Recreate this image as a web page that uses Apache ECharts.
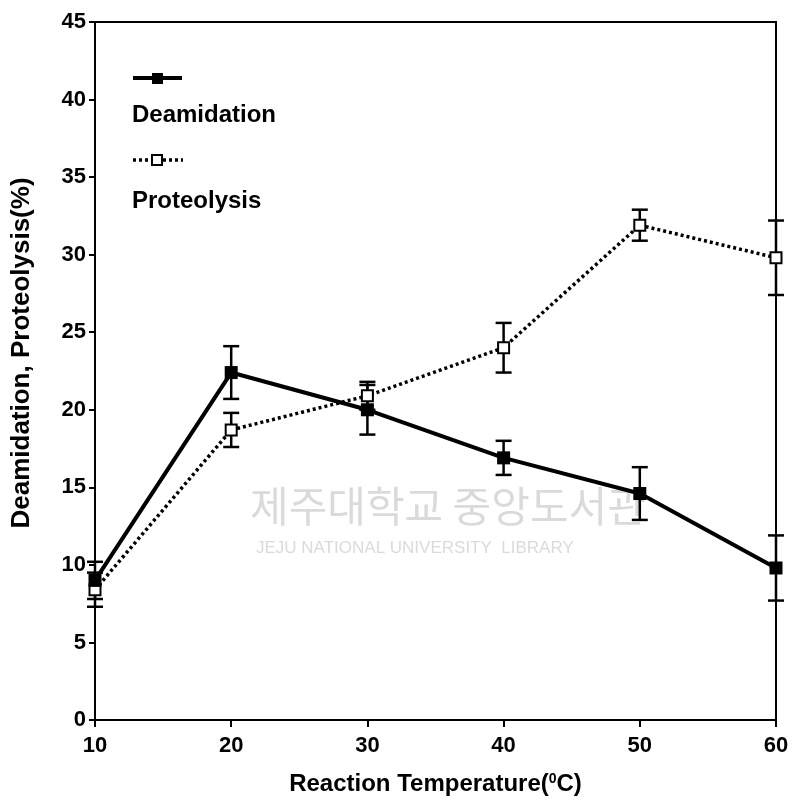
<!DOCTYPE html>
<html>
<head>
<meta charset="utf-8">
<script src="https://cdn.jsdelivr.net/npm/echarts@6/dist/echarts.min.js"></script>
<style>
  html, body { margin: 0; padding: 0; background: #fff; }
  #chart { width: 792px; height: 807px; }
</style>
</head>
<body>
<div id="chart"></div>
<script>
const temps = [10, 20, 30, 40, 50, 60];
const deamidation = [9.0, 22.4, 20.0, 16.9, 14.6, 9.8];
const deamidationErr = [1.2, 1.7, 1.6, 1.1, 1.7, 2.1];
const proteolysis = [8.4, 18.7, 20.9, 24.0, 31.9, 29.8];
const proteolysisErr = [1.1, 1.1, 0.9, 1.6, 1.0, 2.4];

const font = "Liberation Sans";
const chart = echarts.init(document.getElementById("chart"));

function pairs(values) {
  return temps.map((t, i) => [t, values[i]]);
}

function errorSeries(values, errs) {
  return {
    type: "custom",
    z: 1,
    data: temps.map((t, i) => [t, values[i], errs[i]]),
    renderItem: (params, api) => {
      const x = api.value(0);
      const y = api.value(1);
      const e = api.value(2);
      const top = api.coord([x, y + e]);
      const bottom = api.coord([x, y - e]);
      const style = { stroke: "#000", lineWidth: 2.5 };
      const cap = 8;
      return {
        type: "group",
        children: [
          { type: "line", shape: { x1: top[0], y1: top[1], x2: bottom[0], y2: bottom[1] }, style },
          { type: "line", shape: { x1: top[0] - cap, y1: top[1], x2: top[0] + cap, y2: top[1] }, style },
          { type: "line", shape: { x1: bottom[0] - cap, y1: bottom[1], x2: bottom[0] + cap, y2: bottom[1] }, style },
        ],
      };
    },
  };
}

chart.setOption({
  animation: false,
  textStyle: { fontFamily: font },
  grid: { left: 95, right: 16, top: 22, bottom: 87, show: true, borderColor: "#000", borderWidth: 2 },
  xAxis: {
    type: "value",
    min: 10,
    max: 60,
    interval: 10,
    splitLine: { show: false },
    axisLine: { lineStyle: { color: "#000", width: 2 } },
    axisTick: { length: 7, lineStyle: { color: "#000", width: 2 } },
    axisLabel: { color: "#000", fontSize: 22, fontWeight: "bold", margin: 15 },
    name: "{a|Reaction Temperature(}{s|0}{a|C)}",
    nameLocation: "middle",
    nameGap: 52,
    nameTextStyle: {
      rich: {
        a: { fontSize: 24, fontWeight: "bold", color: "#000", fontFamily: font },
        s: { fontSize: 14, fontWeight: "bold", color: "#000", fontFamily: font, verticalAlign: "top", padding: [0, 0, 10, 0] },
      },
    },
  },
  yAxis: {
    type: "value",
    min: 0,
    max: 45,
    interval: 5,
    splitLine: { show: false },
    axisLine: { lineStyle: { color: "#000", width: 2 } },
    axisTick: { length: 6, lineStyle: { color: "#000", width: 2 } },
    axisLabel: { color: "#000", fontSize: 22, fontWeight: "bold", margin: 9 },
    name: "Deamidation, Proteolysis(%)",
    nameLocation: "middle",
    nameGap: 60,
    nameTextStyle: { color: "#000", fontSize: 26, fontWeight: "bold", padding: [0, 0, 0, 36] },
  },
  graphic: [
    { type: "text", left: 250, top: 485, silent: true, z: 0,
      style: { text: "제주대학교 중앙도서관", font: "42px 'Noto Sans CJK KR'", fill: "rgba(150,150,150,0.35)" } },
    { type: "text", left: 256, top: 540, silent: true, z: 0,
      style: { text: "JEJU NATIONAL UNIVERSITY  LIBRARY", font: "17px 'Liberation Sans'", fill: "rgba(150,150,150,0.35)" } },
    // legend: symbol above label
    { type: "line", shape: { x1: 133, y1: 78, x2: 182, y2: 78 }, style: { stroke: "#000", lineWidth: 4 } },
    { type: "rect", shape: { x: 152, y: 73, width: 11, height: 11 }, style: { fill: "#000" } },
    { type: "text", left: 132, top: 103, style: { text: "Deamidation", font: "bold 24px 'Liberation Sans'", fill: "#000" } },
    { type: "line", shape: { x1: 133, y1: 160, x2: 183, y2: 160 }, style: { stroke: "#000", lineWidth: 3.5, lineDash: [3, 3] } },
    { type: "rect", shape: { x: 152, y: 155, width: 10, height: 10 }, style: { fill: "#fff", stroke: "#000", lineWidth: 2 } },
    { type: "text", left: 132, top: 189, style: { text: "Proteolysis", font: "bold 24px 'Liberation Sans'", fill: "#000" } },
  ],
  series: [
    errorSeries(deamidation, deamidationErr),
    errorSeries(proteolysis, proteolysisErr),
    {
      name: "Proteolysis",
      type: "line",
      z: 2,
      data: pairs(proteolysis),
      symbol: "rect",
      symbolSize: 11,
      lineStyle: { color: "#000", width: 3.5, type: [3, 3] },
      itemStyle: { color: "#fff", borderColor: "#000", borderWidth: 2 },
    },
    {
      name: "Deamidation",
      type: "line",
      z: 3,
      data: pairs(deamidation),
      symbol: "rect",
      symbolSize: 13,
      lineStyle: { color: "#000", width: 4 },
      itemStyle: { color: "#000" },
    },
  ],
});
</script>
</body>
</html>
